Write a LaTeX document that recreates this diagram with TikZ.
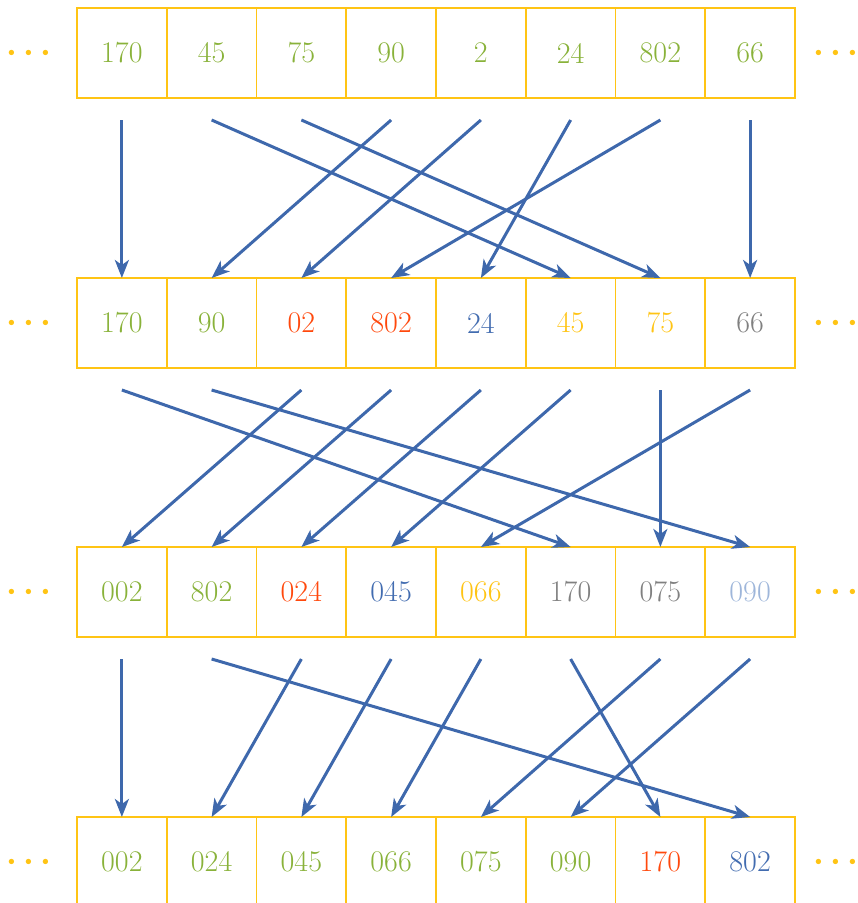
\documentclass[tikz,border=0pt]{standalone}
\usepackage{graphicx}
\usetikzlibrary{arrows.meta}
\definecolor{cgreen}{RGB}{137,178,58}
\definecolor{cred}{RGB}{255,72,12}
\definecolor{cblue}{RGB}{66,108,176}
\definecolor{cyel}{RGB}{255,196,20}
\definecolor{cgray}{RGB}{128,128,128}
\definecolor{clblue}{RGB}{158,182,218}
\definecolor{carrow}{RGB}{62,104,172}
\begin{document}
\begin{tikzpicture}[x=1pt,y=-1pt,
  cell/.style={draw=cyel, line width=1.8pt, minimum width=89.75pt, minimum height=90pt,
    inner sep=0pt, outer sep=0pt, anchor=north west, font=\fontsize{30}{36}\selectfont},
  dotsnode/.style={text=cyel, inner sep=0pt, anchor=base},
  link/.style={draw=carrow, line width=3pt, -{Stealth[length=18pt,width=14pt,inset=5pt]}}]
\useasboundingbox (0,0) rectangle (858,903);
\clip (0,0) rectangle (858,903);
% rows
\foreach \t/\c [count=\i from 0] in {170/cgreen,45/cgreen,75/cgreen,90/cgreen,2/cgreen,24/cgreen,802/cgreen,66/cgreen}
  \node[cell, text=\c] (r1c\i) at ({77+89.75*\i},8) {\t};
\foreach \t/\c [count=\i from 0] in {170/cgreen,90/cgreen,02/cred,802/cred,24/cblue,45/cyel,75/cyel,66/cgray}
  \node[cell, text=\c] (r2c\i) at ({77+89.75*\i},278) {\t};
\foreach \t/\c [count=\i from 0] in {002/cgreen,802/cgreen,024/cred,045/cblue,066/cyel,170/cgray,075/cgray,090/clblue}
  \node[cell, text=\c] (r3c\i) at ({77+89.75*\i},547) {\t};
\foreach \t/\c [count=\i from 0] in {002/cgreen,024/cgreen,045/cgreen,066/cgreen,075/cgreen,090/cgreen,170/cred,802/cblue}
  \node[cell, text=\c] (r4c\i) at ({77+89.75*\i},817) {\t};
% dots
\foreach \r/\y in {1/53,2/323,3/592,4/862}{
  \node[dotsnode] (l\r) at (29,\y+8.5) {\scalebox{3.4}{\boldmath$\cdots$}};
  \node[dotsnode] (rr\r) at (836,\y+8.5) {\scalebox{3.4}{\boldmath$\cdots$}};
}
% arrows
\foreach \a/\b in {0/0,1/5,2/6,3/1,4/2,5/4,6/3,7/7}
  \draw[link] ([yshift=-22pt]r1c\a.south) -- (r2c\b.north);
\foreach \a/\b in {0/5,1/7,2/0,3/1,4/2,5/3,6/6,7/4}
  \draw[link] ([yshift=-22pt]r2c\a.south) -- (r3c\b.north);
\foreach \a/\b in {0/0,1/7,2/1,3/2,4/3,5/6,6/4,7/5}
  \draw[link] ([yshift=-22pt]r3c\a.south) -- (r4c\b.north);
\end{tikzpicture}
\end{document}
